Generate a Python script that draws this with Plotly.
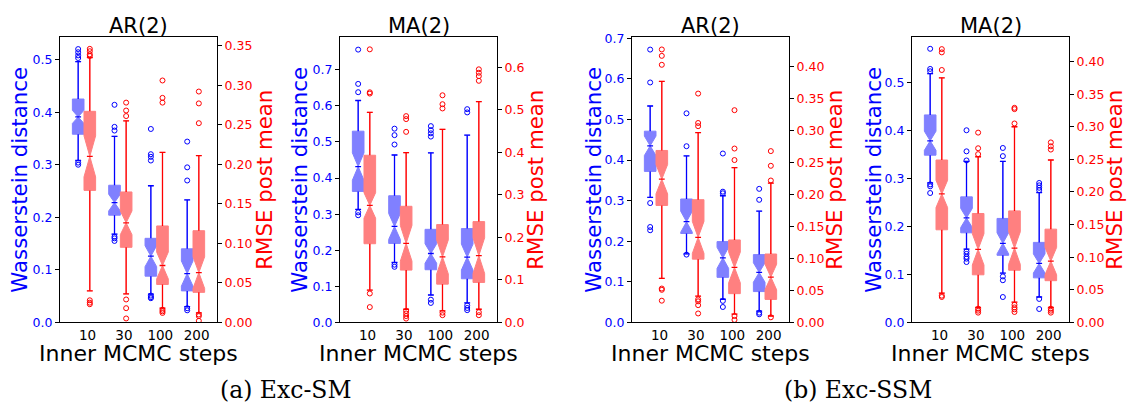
import plotly.graph_objects as go

# ---------------- data ----------------
STEPS = ["10", "30", "100", "200"]
PANEL_TITLES = ["AR(2)", "MA(2)", "AR(2)", "MA(2)"]
CAPTIONS = ["(a) Exc-SM", "(b) Exc-SSM"]
W_TITLE = "Wasserstein distance"
R_TITLE = "RMSE post mean"
X_TITLE = "Inner MCMC steps"

# Exc-SM, AR(2) - Wasserstein distance (left axis)
sm_ar_w_lo = [0.308, 0.168, 0.054, 0.030]
sm_ar_w_q1 = [0.358, 0.204, 0.088, 0.060]
sm_ar_w_med = [0.391, 0.228, 0.126, 0.093]
sm_ar_w_q3 = [0.425, 0.261, 0.160, 0.140]
sm_ar_w_hi = [0.496, 0.354, 0.260, 0.233]
sm_ar_w_notch = [0.0125, 0.016, 0.020, 0.024]
sm_ar_w_out = [[0.520, 0.514, 0.508, 0.503, 0.304, 0.300],
               [0.414, 0.372, 0.365, 0.163, 0.160, 0.155],
               [0.368, 0.320, 0.315, 0.308, 0.051, 0.048, 0.046],
               [0.344, 0.295, 0.270, 0.027, 0.023]]
# Exc-SM, AR(2) - RMSE post mean (right axis)
sm_ar_r_lo = [0.040, 0.036, 0.018, 0.012]
sm_ar_r_q1 = [0.167, 0.095, 0.048, 0.038]
sm_ar_r_med = [0.210, 0.126, 0.072, 0.063]
sm_ar_r_q3 = [0.267, 0.165, 0.122, 0.116]
sm_ar_r_hi = [0.335, 0.255, 0.215, 0.211]
sm_ar_r_notch = [0.026, 0.015, 0.017, 0.020]
sm_ar_r_out = [[0.346, 0.343, 0.339, 0.337, 0.028, 0.025, 0.023],
               [0.278, 0.268, 0.261, 0.029, 0.018, 0.005],
               [0.306, 0.284, 0.278, 0.016, 0.014, 0.012],
               [0.292, 0.277, 0.252, 0.010, 0.008, 0.002]]

# Exc-SM, MA(2)
sm_ma_w_lo = [0.313, 0.166, 0.076, 0.054]
sm_ma_w_q1 = [0.363, 0.219, 0.146, 0.121]
sm_ma_w_med = [0.432, 0.266, 0.191, 0.181]
sm_ma_w_q3 = [0.530, 0.351, 0.258, 0.260]
sm_ma_w_hi = [0.615, 0.464, 0.470, 0.519]
sm_ma_w_notch = [0.038, 0.036, 0.027, 0.036]
sm_ma_w_out = [[0.756, 0.661, 0.638, 0.305, 0.297],
               [0.537, 0.519, 0.493, 0.160, 0.154],
               [0.544, 0.533, 0.524, 0.515, 0.063, 0.054],
               [0.591, 0.582, 0.047, 0.040, 0.034]]
sm_ma_r_lo = [0.076, 0.031, 0.027, 0.031]
sm_ma_r_q1 = [0.185, 0.123, 0.090, 0.094]
sm_ma_r_med = [0.275, 0.186, 0.154, 0.157]
sm_ma_r_q3 = [0.393, 0.273, 0.230, 0.237]
sm_ma_r_hi = [0.494, 0.399, 0.454, 0.519]
sm_ma_r_notch = [0.030, 0.042, 0.040, 0.042]
sm_ma_r_out = [[0.642, 0.541, 0.538, 0.068, 0.036],
               [0.485, 0.478, 0.448, 0.027, 0.021, 0.015, 0.009],
               [0.534, 0.513, 0.503, 0.023, 0.017],
               [0.595, 0.587, 0.579, 0.568, 0.024, 0.017]]

# Exc-SSM, AR(2)
ssm_ar_w_lo = [0.308, 0.169, 0.057, 0.028]
ssm_ar_w_q1 = [0.372, 0.219, 0.111, 0.076]
ssm_ar_w_med = [0.435, 0.248, 0.159, 0.123]
ssm_ar_w_q3 = [0.471, 0.304, 0.199, 0.167]
ssm_ar_w_hi = [0.533, 0.410, 0.312, 0.274]
ssm_ar_w_notch = [0.024, 0.026, 0.026, 0.024]
ssm_ar_w_out = [[0.672, 0.591, 0.294, 0.235, 0.227],
                [0.515, 0.434, 0.167],
                [0.416, 0.322, 0.318, 0.053, 0.038],
                [0.329, 0.302, 0.024, 0.020]]
ssm_ar_r_lo = [0.069, 0.041, 0.013, 0.010]
ssm_ar_r_q1 = [0.183, 0.099, 0.045, 0.036]
ssm_ar_r_med = [0.224, 0.133, 0.086, 0.071]
ssm_ar_r_q3 = [0.269, 0.192, 0.129, 0.107]
ssm_ar_r_hi = [0.377, 0.297, 0.242, 0.218]
ssm_ar_r_notch = [0.023, 0.025, 0.024, 0.020]
ssm_ar_r_out = [[0.427, 0.417, 0.403, 0.053, 0.051, 0.034],
                [0.358, 0.312, 0.307, 0.036, 0.033, 0.027, 0.014],
                [0.332, 0.272, 0.254, 0.010, 0.004],
                [0.268, 0.245, 0.222, 0.008]]

# Exc-SSM, MA(2)
ssm_ma_w_lo = [0.291, 0.153, 0.103, 0.053]
ssm_ma_w_q1 = [0.349, 0.187, 0.140, 0.093]
ssm_ma_w_med = [0.379, 0.218, 0.165, 0.123]
ssm_ma_w_q3 = [0.433, 0.262, 0.217, 0.167]
ssm_ma_w_hi = [0.519, 0.336, 0.336, 0.271]
ssm_ma_w_notch = [0.020, 0.020, 0.022, 0.020]
ssm_ma_w_out = [[0.571, 0.529, 0.524, 0.288, 0.284, 0.270],
                [0.401, 0.357, 0.338, 0.148, 0.143, 0.137, 0.133, 0.126],
                [0.364, 0.347, 0.096, 0.088, 0.053],
                [0.291, 0.286, 0.281, 0.276, 0.049, 0.028]]
ssm_ma_r_lo = [0.045, 0.023, 0.031, 0.023]
ssm_ma_r_q1 = [0.142, 0.073, 0.080, 0.064]
ssm_ma_r_med = [0.197, 0.112, 0.114, 0.094]
ssm_ma_r_q3 = [0.249, 0.167, 0.171, 0.143]
ssm_ma_r_hi = [0.375, 0.254, 0.300, 0.249]
ssm_ma_r_notch = [0.021, 0.024, 0.025, 0.021]
ssm_ma_r_out = [[0.419, 0.414, 0.387, 0.041, 0.039],
                [0.291, 0.267, 0.258, 0.021, 0.018, 0.015],
                [0.329, 0.327, 0.305, 0.027, 0.023, 0.020, 0.016],
                [0.276, 0.270, 0.265, 0.021, 0.018, 0.015]]

# axis ranges / tick steps per panel (left, right)
Y_LEFT_RANGES = [[0, 0.543], [0, 0.791], [0, 0.703], [0, 0.5956]]
Y_RIGHT_RANGES = [[0, 0.361], [0, 0.671], [0, 0.4465], [0, 0.4376]]
Y_LEFT_DTICK = [0.1, 0.1, 0.1, 0.1]
Y_RIGHT_DTICK = [0.05, 0.1, 0.05, 0.05]
Y_RIGHT_FMT = [".2f", ".1f", ".2f", ".2f"]

# ---------------- styling / geometry ----------------
FIG_W, FIG_H = 1127, 413
BLUE, RED = "#0000ff", "#ff0000"
BLUE_F, RED_F = "#8080ff", "#ff8080"
FONT = "DejaVu Sans"
BOX_W = 0.32
BLUE_OFF, RED_OFF, TICK_OFF = 0.50, 0.82, 0.76
X_RANGE = [0, 4.32]
PLOT_TOP, PLOT_BOT = 32, 326.7
PANEL_PX = [(60, 217), (340, 497), (632, 789), (912, 1069)]
RIGHT_TITLE_OFF = [48, 39, 46, 46]
LEFT_TITLE_OFF = [40, 40, 38, 38]

series = [
    ((sm_ar_w_lo, sm_ar_w_q1, sm_ar_w_med, sm_ar_w_q3, sm_ar_w_hi, sm_ar_w_notch, sm_ar_w_out),
     (sm_ar_r_lo, sm_ar_r_q1, sm_ar_r_med, sm_ar_r_q3, sm_ar_r_hi, sm_ar_r_notch, sm_ar_r_out)),
    ((sm_ma_w_lo, sm_ma_w_q1, sm_ma_w_med, sm_ma_w_q3, sm_ma_w_hi, sm_ma_w_notch, sm_ma_w_out),
     (sm_ma_r_lo, sm_ma_r_q1, sm_ma_r_med, sm_ma_r_q3, sm_ma_r_hi, sm_ma_r_notch, sm_ma_r_out)),
    ((ssm_ar_w_lo, ssm_ar_w_q1, ssm_ar_w_med, ssm_ar_w_q3, ssm_ar_w_hi, ssm_ar_w_notch, ssm_ar_w_out),
     (ssm_ar_r_lo, ssm_ar_r_q1, ssm_ar_r_med, ssm_ar_r_q3, ssm_ar_r_hi, ssm_ar_r_notch, ssm_ar_r_out)),
    ((ssm_ma_w_lo, ssm_ma_w_q1, ssm_ma_w_med, ssm_ma_w_q3, ssm_ma_w_hi, ssm_ma_w_notch, ssm_ma_w_out),
     (ssm_ma_r_lo, ssm_ma_r_q1, ssm_ma_r_med, ssm_ma_r_q3, ssm_ma_r_hi, ssm_ma_r_notch, ssm_ma_r_out)),
]

fig = go.Figure()


def add_series(xname, yname, stats, color, fill, off):
    lo, q1, med, q3, hi, notch, out = stats
    pos = [k + off for k in range(len(STEPS))]
    fig.add_trace(go.Box(
        x=pos, q1=q1, median=med, q3=q3, lowerfence=lo, upperfence=hi,
        notchspan=notch, notched=True, notchwidth=0.5, width=BOX_W,
        whiskerwidth=0.5, fillcolor=fill, line=dict(color=fill, width=1),
        boxpoints=False, xaxis=xname, yaxis=yname, showlegend=False,
        hoverinfo="skip"))
    q = BOX_W / 4
    lx, ly = [], []
    for k, c in enumerate(pos):
        lx += [c, c, None, c - q, c + q, None, c, c, None, c - q, c + q, None, c - q, c + q, None]
        ly += [q3[k], hi[k], None, hi[k], hi[k], None, q1[k], lo[k], None,
               lo[k], lo[k], None, med[k], med[k], None]
    fig.add_trace(go.Scatter(x=lx, y=ly, mode="lines", line=dict(color=color, width=1.3),
                             xaxis=xname, yaxis=yname, showlegend=False, hoverinfo="skip"))
    ox, oy = [], []
    for k, c in enumerate(pos):
        ox += [c] * len(out[k])
        oy += out[k]
    fig.add_trace(go.Scatter(x=ox, y=oy, mode="markers",
                             marker=dict(symbol="circle-open", size=5, color=color,
                                         line=dict(width=1, color=color)),
                             xaxis=xname, yaxis=yname, showlegend=False, hoverinfo="skip"))


ydom = [1 - PLOT_BOT / FIG_H, 1 - PLOT_TOP / FIG_H]
annotations = []
layout = {}
for i in range(4):
    n = i + 1
    xa = "x" if n == 1 else f"x{n}"
    yl_i, yr_i = 2 * i + 1, 2 * i + 2
    yl = "y" if yl_i == 1 else f"y{yl_i}"
    yr = f"y{yr_i}"
    wstats, rstats = series[i]
    add_series(xa, yl, wstats, BLUE, BLUE_F, BLUE_OFF)
    add_series(xa, yr, rstats, RED, RED_F, RED_OFF)

    x0, x1 = PANEL_PX[i]
    layout["xaxis" if n == 1 else f"xaxis{n}"] = dict(
        domain=[x0 / FIG_W, x1 / FIG_W], range=X_RANGE, anchor=yl,
        tickmode="array", tickvals=[k + TICK_OFF for k in range(len(STEPS))], ticktext=STEPS,
        showline=True, mirror=True, linecolor="black", linewidth=1, ticks="",
        showgrid=False, zeroline=False, tickfont=dict(family=FONT, size=13.5, color="black"))
    layout["yaxis" if yl_i == 1 else f"yaxis{yl_i}"] = dict(
        domain=ydom, anchor=xa, range=Y_LEFT_RANGES[i], dtick=Y_LEFT_DTICK[i], tick0=0,
        tickformat=".1f", showline=True, linecolor="black", linewidth=1,
        ticks="outside", ticklen=4, tickcolor="black", showgrid=False, zeroline=False,
        tickfont=dict(family=FONT, size=12.5, color=BLUE))
    layout[f"yaxis{yr_i}"] = dict(
        overlaying=yl, side="right", anchor=xa, range=Y_RIGHT_RANGES[i],
        dtick=Y_RIGHT_DTICK[i], tick0=0, tickformat=Y_RIGHT_FMT[i],
        showline=True, linecolor="black", linewidth=1,
        ticks="outside", ticklen=4, tickcolor="black", showgrid=False, zeroline=False,
        tickfont=dict(family=FONT, size=12.5, color=RED))

    cx = (x0 + x1) / 2 / FIG_W
    cy = 1 - (PLOT_TOP + PLOT_BOT) / 2 / FIG_H
    annotations += [
        dict(text=PANEL_TITLES[i], x=cx, y=1 - 21 / FIG_H, xref="paper", yref="paper",
             showarrow=False, xanchor="center", yanchor="middle",
             font=dict(family=FONT, size=21, color="black")),
        dict(text=X_TITLE, x=cx, y=1 - 359 / FIG_H, xref="paper", yref="paper",
             showarrow=False, xanchor="center", yanchor="middle",
             font=dict(family=FONT, size=22, color="black")),
        dict(text=W_TITLE, x=(x0 - LEFT_TITLE_OFF[i]) / FIG_W, y=cy, xref="paper", yref="paper",
             showarrow=False, xanchor="center", yanchor="middle", textangle=-90,
             font=dict(family=FONT, size=21.3, color=BLUE)),
        dict(text=R_TITLE, x=(x1 + RIGHT_TITLE_OFF[i]) / FIG_W, y=cy, xref="paper", yref="paper",
             showarrow=False, xanchor="center", yanchor="middle", textangle=-90,
             font=dict(family=FONT, size=21.3, color=RED)),
    ]

for txt, cxp in zip(CAPTIONS, [285.5, 858]):
    annotations.append(dict(text=txt, x=cxp / FIG_W, y=1 - 396 / FIG_H, xref="paper", yref="paper",
                            showarrow=False, xanchor="center", yanchor="middle",
                            font=dict(family="DejaVu Serif", size=23.5, color="black")))

fig.update_layout(
    width=FIG_W, height=FIG_H, autosize=False,
    margin=dict(l=0, r=0, t=0, b=0, pad=0),
    paper_bgcolor="white", plot_bgcolor="white",
    boxmode="overlay", showlegend=False,
    annotations=annotations, **layout)

fig.write_html("out.html")
